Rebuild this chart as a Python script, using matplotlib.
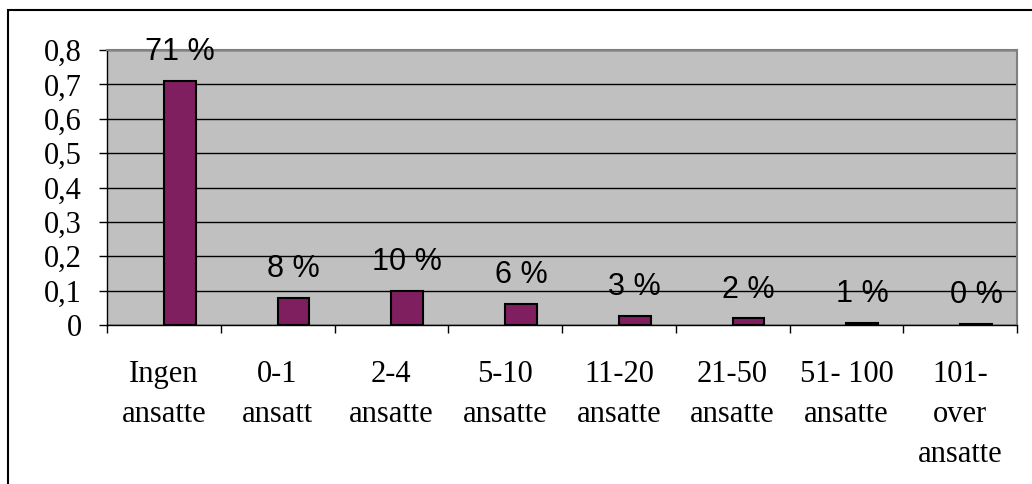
import matplotlib
matplotlib.use("Agg")
import matplotlib.pyplot as plt
from matplotlib.patches import Rectangle
import numpy as np

categories = ["Ingen\nansatte", "0-1\nansatt", "2-4\nansatte", "5-10\nansatte",
              "11-20\nansatte", "21-50\nansatte", "51- 100\nansatte", "101-\nover\nansatte"]
values = [0.71, 0.078, 0.10, 0.06, 0.027, 0.019, 0.005, 0.004]
value_labels = ["71 %", "8 %", "10 %", "6 %", "3 %", "2 %", "1 %", "0 %"]
yticks = [0, 0.1, 0.2, 0.3, 0.4, 0.5, 0.6, 0.7, 0.8]
ytick_labels = ["0", "0,1", "0,2", "0,3", "0,4", "0,5", "0,6", "0,7", "0,8"]

W, H = 1032, 484
fig = plt.figure(figsize=(W / 100, H / 100), dpi=100)
fig.patch.set_facecolor("white")

# outer chart frame (clipped by figure edge)
fig.add_artist(Rectangle((8 / W, 0 - 0.05), 1.2, (H - 10) / H + 0.05,
                         transform=fig.transFigure, fill=False,
                         edgecolor="black", linewidth=1.5))

left, right, top, bottom = 107, 1017, 50, 325
ax = fig.add_axes([left / W, (H - bottom) / H, (right - left) / W, (bottom - top) / H])
ax.set_facecolor("#C0C0C0")

x = np.arange(len(categories))
ax.bar(x, values, width=0.28, align="edge", color="#7F1F5F",
       edgecolor="black", linewidth=1.5, zorder=3)

for xi, v, lab in zip(x, values, value_labels):
    ax.annotate(lab, (xi + 0.14, v), xytext=(0, 10), textcoords="offset points",
                ha="center", va="bottom", fontsize=22, family="Liberation Sans",
                color="black", clip_on=False, zorder=5)

ax.set_xlim(-0.5, len(categories) - 0.5)
ax.set_ylim(0, 0.8)
ax.set_yticks(yticks)
ax.set_yticklabels(ytick_labels, fontsize=22, family="Liberation Serif")
ax.yaxis.grid(True, color="black", linewidth=1, zorder=1)
ax.set_axisbelow(True)

ax.set_xticks(x)
ax.set_xticklabels(categories, fontsize=22, family="Liberation Serif",
                   linespacing=1.5, va="top")
ax.tick_params(axis="x", which="major", length=0, pad=25)
ax.set_xticks(np.arange(-0.5, len(categories), 1.0), minor=True)
ax.tick_params(axis="x", which="minor", length=6, width=1, color="black")
ax.tick_params(axis="y", length=6, width=1, pad=12, color="black")

for s in ["top", "right"]:
    ax.spines[s].set_color("#808080")
    ax.spines[s].set_linewidth(1.5)
for s in ["left", "bottom"]:
    ax.spines[s].set_color("black")
    ax.spines[s].set_linewidth(1)

fig.savefig("out.png", dpi=100, facecolor="white")
